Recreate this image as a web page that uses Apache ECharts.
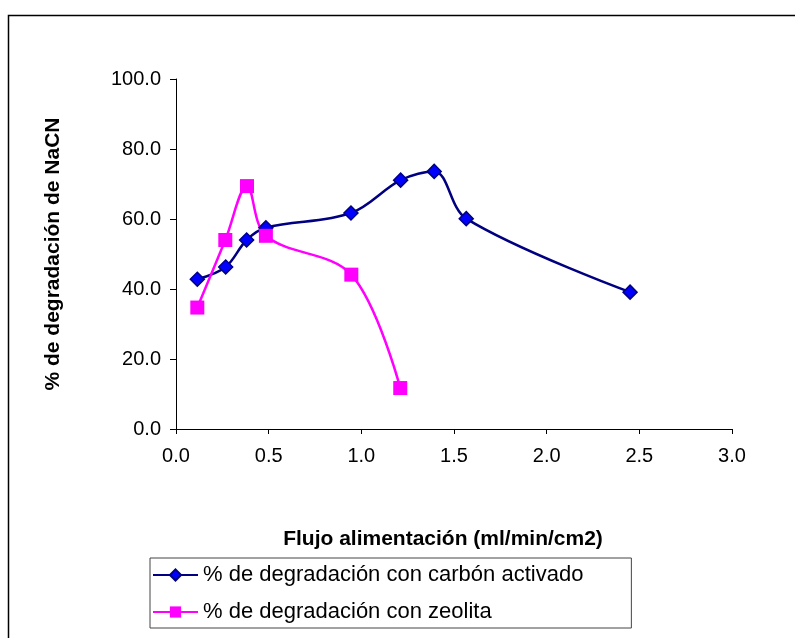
<!DOCTYPE html>
<html>
<head>
<meta charset="utf-8">
<script src="https://cdn.jsdelivr.net/npm/echarts@6/dist/echarts.min.js"></script>
<style>html,body{margin:0;padding:0;background:#fff}#c{width:795px;height:638px}</style>
</head>
<body>
<div id="c"></div>
<script>
const seriesNames = ['% de degradación con carbón activado', '% de degradación con zeolita'];
const xCarbon = [0.115, 0.268, 0.381, 0.485, 0.944, 1.212, 1.393, 1.566, 2.450];
const yCarbon = [42.8, 46.3, 54.0, 57.5, 61.7, 71.1, 73.6, 60.1, 39.1];
const xZeolita = [0.115, 0.266, 0.383, 0.485, 0.946, 1.210];
const yZeolita = [34.7, 54.0, 69.4, 55.2, 44.1, 11.7];
const xTitle = 'Flujo alimentación (ml/min/cm2)';
const yTitle = '% de degradación de NaCN';

const FF = '"Liberation Sans", Arial, sans-serif';
const chart = echarts.init(document.getElementById('c'), null, {renderer: 'canvas'});
const pairs = (xs, ys) => xs.map((x, i) => [x, ys[i]]);
chart.setOption({
  animation: false,
  backgroundColor: '#fff',
  graphic: [{
    type: 'rect', left: 6, top: 13, shape: {width: 1000, height: 1000},
    style: {fill: 'none', stroke: '#000', lineWidth: 1.5}, silent: true
  }],
  grid: {left: 176, right: 63, top: 79, bottom: 209, containLabel: false},
  xAxis: {
    type: 'value', min: 0, max: 3, interval: 0.5,
    name: xTitle, nameLocation: 'middle', nameGap: 100,
    nameTextStyle: {fontFamily: FF, fontSize: 21, fontWeight: 'bold', color: '#000', padding: [0, 22, 0, 0]},
    axisLine: {show: true, onZero: false, lineStyle: {color: '#000', width: 1}},
    axisTick: {show: true, inside: false, length: 5, lineStyle: {color: '#000'}},
    axisLabel: {fontFamily: FF, fontSize: 20, color: '#000', margin: 17, formatter: v => v.toFixed(1)},
    splitLine: {show: false}
  },
  yAxis: {
    type: 'value', min: 0, max: 100, interval: 20,
    name: yTitle, nameLocation: 'middle', nameGap: 112, nameRotate: 90,
    nameTextStyle: {fontFamily: FF, fontSize: 21, fontWeight: 'bold', color: '#000'},
    axisLine: {show: true, lineStyle: {color: '#000', width: 1}},
    axisTick: {show: true, inside: false, length: 6, lineStyle: {color: '#000'}},
    axisLabel: {fontFamily: FF, fontSize: 20, color: '#000', margin: 15, formatter: v => v.toFixed(1)},
    splitLine: {show: false}
  },
  legend: {
    left: 150, top: 558, orient: 'vertical',
    itemWidth: 45, itemHeight: 14, itemGap: 15,
    padding: [6, 48, 5, 2],
    borderColor: '#444', borderWidth: 1,
    textStyle: {fontFamily: FF, fontSize: 22, color: '#000'},
    data: seriesNames
  },
  series: [{
    name: seriesNames[0], type: 'line', data: pairs(xCarbon, yCarbon),
    smooth: 0.35, symbol: 'diamond', symbolSize: 14,
    lineStyle: {color: '#000080', width: 2.5},
    itemStyle: {color: '#0000FF', borderColor: '#000080', borderWidth: 1.5}
  }, {
    name: seriesNames[1], type: 'line', data: pairs(xZeolita, yZeolita),
    smooth: 0.35, symbol: 'rect', symbolSize: 14,
    lineStyle: {color: '#FF00FF', width: 2.5},
    itemStyle: {color: '#FF00FF', borderColor: '#FF00FF', borderWidth: 0}
  }]
});
</script>
</body>
</html>
